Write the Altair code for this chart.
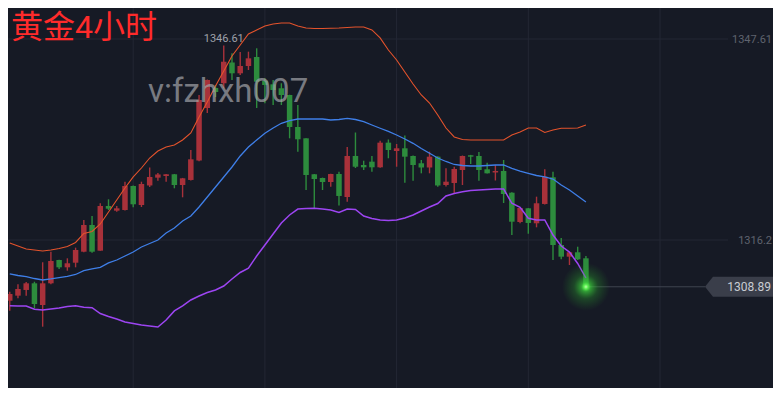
import altair as alt
import pandas as pd

# ---------------- data ----------------
candle_index = list(range(71))
opens = [1306.71, 1307.50, 1308.39, 1309.43, 1306.04, 1309.43, 1313.07, 1311.93, 1312.65, 1314.37,
         1318.54, 1314.53, 1321.51, 1320.78, 1320.89, 1324.64, 1321.67, 1324.72, 1325.94, 1326.20,
         1326.47, 1324.79, 1325.58, 1328.62, 1336.83, 1339.95, 1340.69, 1343.94, 1342.25, 1343.39,
         1344.80, 1341.09, 1340.53, 1339.91, 1338.86, 1333.86, 1332.09, 1326.47, 1325.89, 1325.26,
         1326.51, 1322.92, 1329.33, 1327.92, 1328.44, 1327.56, 1331.41, 1330.11, 1330.53, 1329.33,
         1328.19, 1327.53, 1329.22, 1324.79, 1325.11, 1327.14, 1329.44, 1329.33, 1327.25, 1326.75,
         1326.98, 1323.59, 1319.01, 1321.15, 1318.81, 1321.83, 1326.00, 1315.42, 1313.59, 1314.28,
         1313.34]
highs = [1308.12, 1309.28, 1309.64, 1309.68, 1312.72, 1314.37, 1313.10, 1313.34, 1315.00, 1319.33,
         1319.95, 1321.94, 1322.56, 1321.51, 1325.31, 1324.70, 1325.31, 1327.53, 1326.67, 1326.52,
         1326.52, 1325.90, 1330.26, 1338.86, 1341.30, 1340.42, 1346.61, 1345.38, 1345.58, 1345.63,
         1346.16, 1341.47, 1341.20, 1340.69, 1338.90, 1337.30, 1332.10, 1326.50, 1325.95, 1326.55,
         1326.87, 1330.73, 1333.00, 1328.59, 1329.33, 1331.72, 1331.91, 1331.20, 1332.53, 1329.40,
         1328.70, 1330.00, 1329.30, 1327.40, 1327.65, 1329.40, 1329.50, 1329.95, 1328.28, 1327.92,
         1328.70, 1323.65, 1321.25, 1321.20, 1322.97, 1327.25, 1326.87, 1316.51, 1314.35, 1315.15,
         1313.70]
lows = [1305.15, 1307.09, 1307.50, 1305.53, 1302.65, 1309.30, 1311.67, 1311.40, 1311.93, 1314.30,
        1314.22, 1314.50, 1320.89, 1320.62, 1320.80, 1321.31, 1321.36, 1324.48, 1325.47, 1325.31,
        1324.28, 1322.87, 1325.50, 1328.50, 1336.05, 1338.55, 1339.91, 1341.20, 1341.99, 1342.77,
        1336.83, 1337.56, 1337.30, 1337.30, 1332.09, 1330.00, 1324.01, 1321.09, 1324.01, 1324.53,
        1321.59, 1322.19, 1327.45, 1327.14, 1326.87, 1327.50, 1328.97, 1327.65, 1325.15, 1325.47,
        1326.62, 1326.62, 1324.53, 1324.56, 1323.44, 1324.79, 1328.08, 1325.47, 1326.58, 1325.50,
        1321.98, 1316.98, 1318.81, 1317.18, 1318.18, 1321.75, 1313.07, 1313.18, 1312.29, 1313.07,
        1308.39]
closes = [1307.76, 1308.54, 1309.43, 1306.20, 1309.43, 1312.92, 1311.93, 1312.56, 1314.64, 1318.54,
          1314.37, 1321.51, 1321.09, 1321.15, 1324.64, 1321.78, 1324.95, 1326.05, 1326.44, 1326.47,
          1324.79, 1325.84, 1328.81, 1338.08, 1341.20, 1339.33, 1344.06, 1342.25, 1343.39, 1344.59,
          1340.94, 1340.42, 1339.64, 1338.86, 1333.86, 1331.94, 1326.36, 1325.73, 1325.26, 1326.51,
          1323.08, 1329.33, 1327.65, 1327.56, 1327.56, 1331.41, 1330.26, 1330.53, 1329.22, 1327.92,
          1327.53, 1329.22, 1324.72, 1325.31, 1327.30, 1329.33, 1329.22, 1327.14, 1326.62, 1326.98,
          1323.39, 1319.06, 1321.20, 1318.86, 1321.94, 1326.09, 1315.42, 1313.59, 1314.28, 1313.18,
          1308.89]
upper_band = [1315.73, 1315.26, 1314.79, 1314.64, 1314.48, 1314.64, 1314.87, 1315.18, 1315.81, 1317.22,
              1317.53, 1318.70, 1320.58, 1322.45, 1324.33, 1326.05, 1327.45, 1329.01, 1330.11, 1330.73,
              1331.05, 1331.83, 1332.92, 1335.42, 1337.77, 1340.27, 1342.61, 1344.95, 1346.67, 1348.39,
              1349.02, 1349.64, 1349.95, 1350.11, 1350.11, 1349.64, 1349.33, 1349.25, 1349.25, 1349.28,
              1349.33, 1349.41, 1349.49, 1349.49, 1349.02, 1347.77, 1345.89, 1344.33, 1342.45, 1340.58,
              1338.86, 1337.61, 1335.73, 1333.70, 1332.30, 1331.91, 1331.83, 1331.83, 1331.83, 1331.83,
              1331.83, 1332.61, 1333.08, 1333.70, 1333.70, 1333.00, 1333.39, 1333.66, 1333.66, 1333.70,
              1334.17]
middle_band = [1310.89, 1310.65, 1310.46, 1310.18, 1309.95, 1310.11, 1310.31, 1310.50, 1310.81, 1311.40,
               1311.67, 1311.93, 1312.61, 1313.07, 1313.70, 1314.32, 1315.11, 1315.65, 1316.20, 1317.29,
               1318.08, 1319.17, 1319.95, 1321.36, 1322.92, 1324.48, 1326.05, 1327.61, 1329.33, 1330.73,
               1331.83, 1332.87, 1333.70, 1334.44, 1334.87, 1335.11, 1335.11, 1335.11, 1335.11, 1334.95,
               1335.03, 1335.19, 1335.03, 1334.69, 1334.17, 1333.66, 1333.16, 1332.61, 1331.98, 1331.31,
               1330.50, 1329.75, 1329.01, 1328.47, 1328.00, 1327.84, 1327.76, 1327.76, 1327.84, 1327.92,
               1327.92, 1327.40, 1326.98, 1326.62, 1326.28, 1326.05, 1325.73, 1324.79, 1324.01, 1323.08,
               1322.14]
lower_band = [1305.93, 1305.89, 1305.89, 1305.37, 1305.26, 1305.42, 1305.57, 1305.81, 1305.93, 1305.68,
              1305.62, 1304.71, 1304.25, 1303.85, 1303.39, 1303.15, 1302.92, 1302.76, 1302.61, 1303.70,
              1305.11, 1305.89, 1306.82, 1307.45, 1308.00, 1308.39, 1309.01, 1310.11, 1311.12, 1311.78,
              1313.70, 1315.42, 1317.14, 1318.86, 1320.11, 1321.04, 1321.12, 1321.15, 1321.04, 1320.89,
              1320.50, 1321.04, 1320.97, 1319.95, 1319.56, 1319.33, 1319.25, 1319.33, 1319.64, 1320.11,
              1320.73, 1321.36, 1321.90, 1323.08, 1323.47, 1323.75, 1323.94, 1324.01, 1324.09, 1324.17,
              1324.17, 1321.94, 1321.31, 1319.59, 1319.33, 1319.33, 1316.98, 1315.26, 1314.32, 1312.53,
              1310.26]

price_ticks = [1347.61, 1316.2]
price_tick_labels = ["1347.61", "1316.2"]
grid_candles = [15, 31, 47, 63, 79]
last_price = [1308.89]
last_price_label = ["1308.89"]
peak_label = ["1346.61"]
title_text = ["黄金4小时"]
watermark_text = ["v:fzhxh007"]

# ---------------- tables ----------------
df = pd.DataFrame({
    "i": candle_index, "open": opens, "high": highs, "low": lows, "close": closes,
    "upper": upper_band, "middle": middle_band, "lower": lower_band,
})
df["dir"] = ["up" if c >= o else "down" for o, c in zip(df["open"], df["close"])]

grid_v = pd.DataFrame({"g": grid_candles})
grid_h = pd.DataFrame({"p": price_ticks, "label": price_tick_labels})
peak_row = df.loc[[df["high"].idxmax()], ["i", "high"]].copy()
peak_row["label"] = peak_label
last_df = pd.DataFrame({"i": [candle_index[-1]], "p": last_price, "label": last_price_label})
title_df = pd.DataFrame({"t": title_text})
wm_df = pd.DataFrame({"t": watermark_text})

# ---------------- scales ----------------
W, H = 765, 380
xs = alt.Scale(domain=[0.396, 92.12], nice=False, zero=False)
ys = alt.Scale(domain=[1293.07, 1352.455], nice=False, zero=False)

BG = "#161a25"
GRID = "#232734"
RED, GREEN = "#e23a3f", "#35b84a"
RED_W, GREEN_W = "#a8313a", "#2d8c3d"

def X(f):
    return alt.X(f, scale=xs, axis=None)

def Y(f):
    return alt.Y(f, scale=ys, axis=None)

vgrid = alt.Chart(grid_v).mark_rule(color=GRID, strokeWidth=1).encode(x=X("g:Q"))
hgrid = alt.Chart(grid_h).mark_rule(color=GRID, strokeWidth=1).encode(
    y=Y("p:Q"), x=alt.value(0), x2=alt.value(720))
hlabels = alt.Chart(grid_h).mark_text(
    align="right", baseline="middle", font="Roboto", fontSize=11, color="#5f636e", dy=1
).encode(y=Y("p:Q"), x=alt.value(764), text="label:N")

dir_color = alt.Color("dir:N", scale=alt.Scale(domain=["up", "down"], range=[RED, GREEN]), legend=None)
wick_color = alt.Color("dir:N", scale=alt.Scale(domain=["up", "down"], range=[RED_W, GREEN_W]), legend=None)

base = alt.Chart(df)
wicks = base.mark_rule(strokeWidth=1.4).encode(x=X("i:Q"), y=Y("low:Q"), y2="high:Q", color=wick_color)
bodies = base.mark_bar(size=5.5).encode(x=X("i:Q"), y=Y("open:Q"), y2="close:Q", color=dir_color)

up_line = base.mark_line(color="#e4532c", strokeWidth=1.1).encode(x=X("i:Q"), y=Y("upper:Q"))
mid_line = base.mark_line(color="#3f7fe8", strokeWidth=1.3).encode(x=X("i:Q"), y=Y("middle:Q"))
low_line = base.mark_line(color="#9d45f2", strokeWidth=1.5).encode(x=X("i:Q"), y=Y("lower:Q"))

peak_text = alt.Chart(peak_row).mark_text(
    align="center", baseline="alphabetic", font="Roboto", fontSize=11, color="#9ea1aa", dy=-3
).encode(x=X("i:Q"), y=Y("high:Q"), text="label:N")

price_line = alt.Chart(last_df).mark_rule(color="#3f4350", strokeWidth=1).encode(
    x=X("i:Q"), x2=alt.value(697), y=Y("p:Q"))
tag_shape = "M -1 0 L -0.79 -0.263 L 1 -0.263 L 1 0.263 L -0.79 0.263 Z"
tag = alt.Chart(last_df).mark_point(
    shape=tag_shape, size=5776, filled=True, fill="#3a3e4a", strokeWidth=0, opacity=1
).encode(x=alt.value(735), y=Y("p:Q"))
tag_text = alt.Chart(last_df).mark_text(
    align="right", baseline="middle", font="Roboto", fontSize=12, color="#c9ccd3", dy=0
).encode(x=alt.value(763), y=Y("p:Q"), text="label:N")

glow = alt.Chart(last_df).mark_point(
    shape="circle", filled=True, size=2300, strokeWidth=0, opacity=1,
    fill={"gradient": "radial", "stops": [
        {"offset": 0, "color": "#c4ffb0"},
        {"offset": 0.09, "color": "#5aee50"},
        {"offset": 0.2, "color": "rgba(60,210,60,0.7)"},
        {"offset": 0.5, "color": "rgba(45,175,45,0.3)"},
        {"offset": 1, "color": "rgba(40,150,40,0)"},
    ]},
).encode(x=X("i:Q"), y=Y("p:Q"))

title = alt.Chart(title_df).mark_text(
    align="left", baseline="alphabetic", font="Roboto, 'Noto Sans CJK SC'", fontSize=32,
    color="#ff2b2b"
).encode(x=alt.value(3), y=alt.value(30), text="t:N")

watermark = alt.Chart(wm_df).mark_text(
    align="left", baseline="alphabetic", font="Roboto", fontSize=33, color="#a2a3a8", opacity=0.7
).encode(x=alt.value(140), y=alt.value(94), text="t:N")

chart = alt.layer(
    vgrid, hgrid, hlabels, wicks, bodies, up_line, mid_line, low_line,
    price_line, tag, tag_text, peak_text, glow, title, watermark
).properties(
    width=W, height=H, background=BG, padding=0,
    autosize=alt.AutoSizeParams(type="none"),
).configure_view(stroke=None, fill=BG)

chart.save("out.html", embed_options={"renderer": "svg", "actions": False})
